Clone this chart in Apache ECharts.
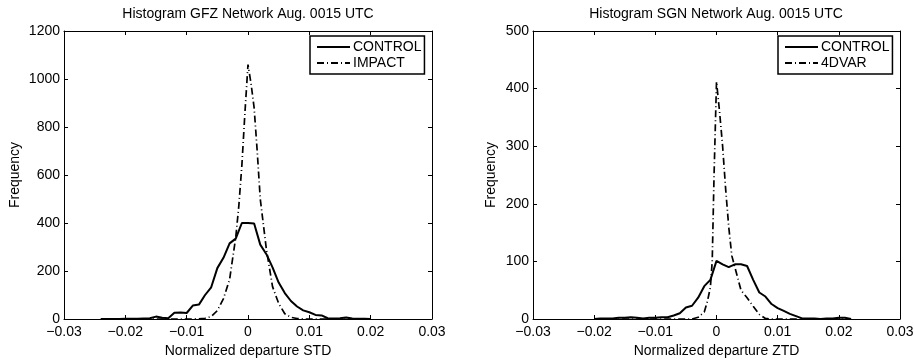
<!DOCTYPE html>
<html>
<head>
<meta charset="utf-8">
<script src="https://cdn.jsdelivr.net/npm/echarts@6/dist/echarts.min.js"></script>
<style>
  html, body { margin: 0; padding: 0; background: #fff; }
  #chart { width: 914px; height: 361px; }
</style>
</head>
<body>
<div id="chart"></div>
<script>
// GFZ network (left panel)
const gfzBins = [-0.024, -0.023, -0.022, -0.021, -0.020, -0.019, -0.018, -0.017, -0.016, -0.015,
  -0.014, -0.013, -0.012, -0.011, -0.010, -0.009, -0.008, -0.007, -0.006, -0.005,
  -0.004, -0.003, -0.002, -0.001, 0, 0.001, 0.002, 0.003, 0.004, 0.005,
  0.006, 0.007, 0.008, 0.009, 0.010, 0.011, 0.012, 0.013, 0.014, 0.015,
  0.016, 0.017, 0.018, 0.019, 0.020];
const gfzControl = [0, 0, 0, 0, 1, 1, 1, 2, 3, 10,
  5, 3, 26, 27, 25, 56, 60, 100, 132, 212,
  255, 315, 335, 400, 400, 398, 310, 270, 215, 152,
  108, 75, 52, 36, 28, 17, 15, 3, 2, 3,
  6, 2, 1, 1, 0];
const gfzImpactX = [-0.024, -0.009, -0.008, -0.007, -0.006, -0.005, -0.004, -0.003, -0.002, -0.0015,
  -0.001, -0.0005, 0, 0.0005, 0.001, 0.0015, 0.002, 0.0025, 0.003, 0.004,
  0.005, 0.006, 0.007, 0.008, 0.009, 0.020];
const gfzImpactY = [0, 0, 1, 3, 10, 35, 85, 165, 340, 470,
  640, 860, 1060, 980, 880, 700, 500, 395, 290, 135,
  65, 22, 7, 2, 0, 0];

// SGN network (right panel)
const sgnBins = [-0.020, -0.019, -0.018, -0.017, -0.016, -0.015, -0.014, -0.013, -0.012, -0.011,
  -0.010, -0.009, -0.008, -0.007, -0.006, -0.005, -0.004, -0.003, -0.002, -0.001,
  0, 0.001, 0.002, 0.003, 0.004, 0.005, 0.006, 0.007, 0.008, 0.009,
  0.010, 0.011, 0.012, 0.013, 0.014, 0.015, 0.016, 0.017, 0.018, 0.019,
  0.020, 0.021, 0.022];
const sgnControl = [0, 1, 1, 1, 2, 2, 3, 2, 1, 2,
  2, 3, 3, 6, 10, 20, 23, 37, 57, 68,
  101, 95, 90, 95, 95, 92, 68, 46, 39, 26,
  19, 14, 9, 5, 1, 1, 1, 0, 1, 1,
  2, 2, 0];
const sgnVarX = [-0.020, -0.004, -0.003, -0.002, -0.0015, -0.001, -0.0007, -0.0004, 0, 0.0005,
  0.001, 0.0015, 0.002, 0.0025, 0.003, 0.004, 0.005, 0.006, 0.007, 0.008,
  0.009, 0.022];
const sgnVarY = [0, 0, 3, 12, 30, 55, 100, 250, 412, 360,
  300, 225, 160, 110, 90, 50, 37, 22, 8, 1,
  0, 0];

const titles = ['Histogram GFZ Network Aug. 0015 UTC', 'Histogram SGN Network Aug. 0015 UTC'];
const xNames = ['Normalized departure STD', 'Normalized departure ZTD'];
const xTicks = { min: -0.03, max: 0.03, interval: 0.01 };
const yLimits = [{ max: 1200, interval: 200 }, { max: 500, interval: 100 }];

const font = 'Liberation Sans, Arial, Helvetica, sans-serif';
const zip = (xs, ys) => xs.map((x, i) => [x, ys[i]]);

function fmtX(v) {
  if (Math.abs(v) < 1e-9) return '0';
  return (v < 0 ? '\u2212' : '') + Math.abs(v).toFixed(2);
}

const grids = [
  { left: 64, top: 31, width: 368, height: 288 },
  { left: 533, top: 31, width: 367, height: 288 }
];

const line = { lineStyle: { color: '#000', width: 1 } };

function xPair(g) {
  return [
    {
      gridIndex: g, type: 'value', position: 'bottom', ...xTicks,
      axisLine: { onZero: false, ...line },
      axisTick: { inside: true, length: 4, lineStyle: { color: '#000' } },
      axisLabel: { color: '#000', fontSize: 14, fontFamily: font, margin: 6, formatter: fmtX },
      splitLine: { show: false },
      name: xNames[g], nameLocation: 'middle', nameGap: 22,
      nameTextStyle: { color: '#000', fontSize: 14, fontFamily: font }
    },
    {
      gridIndex: g, type: 'value', position: 'top', ...xTicks,
      axisLine: { onZero: false, ...line },
      axisTick: { inside: true, length: 4, lineStyle: { color: '#000' } },
      axisLabel: { show: false },
      splitLine: { show: false }
    }
  ];
}

function yPair(g) {
  return [
    {
      gridIndex: g, type: 'value', position: 'left', min: 0, ...yLimits[g],
      axisLine: { show: true, onZero: false, ...line },
      axisTick: { show: true, inside: true, length: 4, lineStyle: { color: '#000' } },
      axisLabel: { color: '#000', fontSize: 14, fontFamily: font, margin: 4, formatter: v => String(v) },
      splitLine: { show: false },
      name: 'Frequency', nameLocation: 'middle', nameGap: g === 0 ? 42 : 35,
      nameTextStyle: { color: '#000', fontSize: 14, fontFamily: font }
    },
    {
      gridIndex: g, type: 'value', position: 'right', min: 0, ...yLimits[g],
      axisLine: { show: true, onZero: false, ...line },
      axisTick: { show: true, inside: true, length: 4, lineStyle: { color: '#000' } },
      axisLabel: { show: false },
      splitLine: { show: false }
    }
  ];
}

function legendAt(left, names) {
  return {
    data: names, left: left, top: 36, orient: 'vertical',
    selectedMode: false,
    itemWidth: 33, itemHeight: 14, itemGap: 2,
    padding: [4, 3, 4, 6],
    borderColor: '#000', borderWidth: 1.5, backgroundColor: '#fff',
    itemStyle: { opacity: 0 },
    textStyle: { color: '#000', fontSize: 14, fontFamily: font, padding: [0, 0, 0, -2] }
  };
}

function solid(xi, yi, data) {
  return {
    name: 'CONTROL', type: 'line', xAxisIndex: xi, yAxisIndex: yi, data: data,
    symbol: 'none', z: 3,
    lineStyle: { color: '#000', width: 2 }, itemStyle: { color: '#000' }
  };
}

function dashDot(name, xi, yi, data) {
  return {
    name: name, type: 'line', xAxisIndex: xi, yAxisIndex: yi, data: data,
    symbol: 'none', z: 2,
    lineStyle: { color: '#000', width: 1.7, type: [7, 3, 1, 3] }, itemStyle: { color: '#000' }
  };
}

const chart = echarts.init(document.getElementById('chart'), null, { renderer: 'canvas' });

chart.setOption({
  animation: false,
  backgroundColor: '#fff',
  textStyle: { fontFamily: font },
  title: [
    { text: titles[0], left: 248, top: 7, textAlign: 'center', padding: 0,
      textStyle: { color: '#000', fontSize: 14, fontWeight: 'normal', fontFamily: font } },
    { text: titles[1], left: 716, top: 7, textAlign: 'center', padding: 0,
      textStyle: { color: '#000', fontSize: 14, fontWeight: 'normal', fontFamily: font } }
  ],
  grid: grids.map(g => ({ ...g, containLabel: false, outerBoundsMode: 'none' })),
  xAxis: [...xPair(0), ...xPair(1)],
  yAxis: [...yPair(0), ...yPair(1)],
  legend: [legendAt(310, ['CONTROL', 'IMPACT']), legendAt(778, ['CONTROL', '4DVAR'])],
  series: [
    solid(0, 0, zip(gfzBins, gfzControl)),
    dashDot('IMPACT', 0, 0, zip(gfzImpactX, gfzImpactY)),
    solid(2, 2, zip(sgnBins, sgnControl)),
    dashDot('4DVAR', 2, 2, zip(sgnVarX, sgnVarY))
  ]
});
</script>
</body>
</html>
